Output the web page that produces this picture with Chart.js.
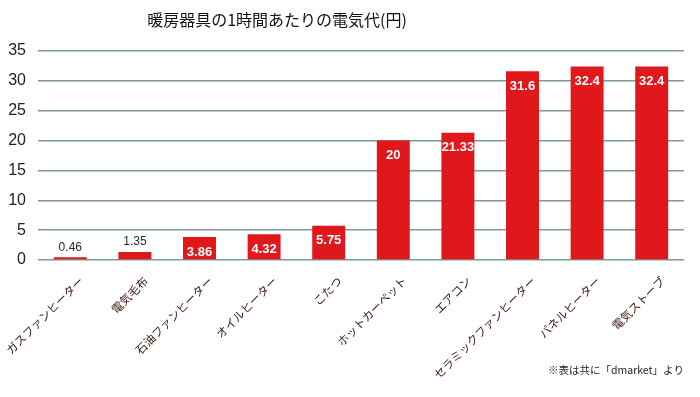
<!DOCTYPE html>
<html>
<head>
<meta charset="utf-8">
<script src="https://cdn.jsdelivr.net/npm/chart.js@4"></script>
<style>
  html, body { margin: 0; padding: 0; background: #fff; }
  #wrap { width: 700px; height: 397px; position: relative; }
</style>
</head>
<body>
<div id="wrap"><canvas id="chart"></canvas></div>
<script>
// 暖房器具の1時間あたりの電気代
const TITLE = '暖房器具の1時間あたりの電気代(円)';
const NOTE = '※表は共に「dmarket」より';
const categories = ['ガスファンヒーター', '電気毛布', '石油ファンヒーター', 'オイルヒーター', 'こたつ',
  'ホットカーペット', 'エアコン', 'セラミックファンヒーター', 'パネルヒーター', '電気ストーブ'];
const costs = [0.46, 1.35, 3.86, 4.32, 5.75, 20, 21.33, 31.6, 32.4, 32.4];
const yTicks = [0, 5, 10, 15, 20, 25, 30, 35];

const FONT = '"Liberation Sans", "Noto Sans CJK JP", sans-serif';
const JP = '"Noto Sans CJK JP", sans-serif';

// value labels + title + footnote
const decor = {
  id: 'decor',
  afterDatasetsDraw(chart) {
    const ctx = chart.ctx;
    const meta = chart.getDatasetMeta(0);
    ctx.save();
    ctx.textAlign = 'center';
    ctx.textBaseline = 'middle';
    meta.data.forEach((bar, i) => {
      const v = costs[i];
      if (v < 2) {
        ctx.fillStyle = '#2a2a2a';
        ctx.font = '12px ' + FONT;
        ctx.fillText(String(v), bar.x, bar.y - 10);
      } else {
        ctx.fillStyle = '#ffffff';
        ctx.font = 'bold 13px ' + FONT;
        ctx.fillText(String(v), bar.x, bar.y + 15);
      }
    });
    ctx.fillStyle = '#111';
    ctx.font = '16px ' + JP;
    ctx.fillText(TITLE, 277, 20);
    ctx.font = '10.5px ' + JP;
    ctx.textAlign = 'right';
    ctx.fillStyle = '#222';
    ctx.fillText(NOTE, 684, 370);
    ctx.restore();
  }
};

new Chart(document.getElementById('chart'), {
  type: 'bar',
  data: {
    labels: categories,
    datasets: [{
      data: costs,
      backgroundColor: '#e0171b',
      borderWidth: 0,
      barPercentage: 0.51,
      categoryPercentage: 1
    }]
  },
  options: {
    responsive: true, maintainAspectRatio: false, animation: false,
    layout: { padding: { top: 51, left: 8, right: 16, bottom: 0 } },
    plugins: { legend: { display: false }, tooltip: { enabled: false }, title: { display: false } },
    scales: {
      x: {
        grid: { display: false },
        border: { display: false },
        ticks: { color: '#3b1510', font: { family: JP, size: 11.5 }, minRotation: 45, maxRotation: 45, autoSkip: false, padding: 6, labelOffset: 11 },
        afterFit: s => { s.height = 137; s.paddingLeft = 0; s.paddingRight = 0; }
      },
      y: {
        min: 0, max: 35,
        afterBuildTicks: axis => { axis.ticks = yTicks.map(v => ({ value: v })); },
        grid: { color: '#7f9898', lineWidth: 1.5, drawTicks: false },
        border: { display: false },
        ticks: { color: '#222', font: { family: FONT, size: 16 }, padding: 12 },
        afterFit: s => { s.width = 30; s.paddingTop = 0; s.paddingBottom = 0; }
      }
    }
  },
  plugins: [decor]
});
</script>
</body>
</html>
